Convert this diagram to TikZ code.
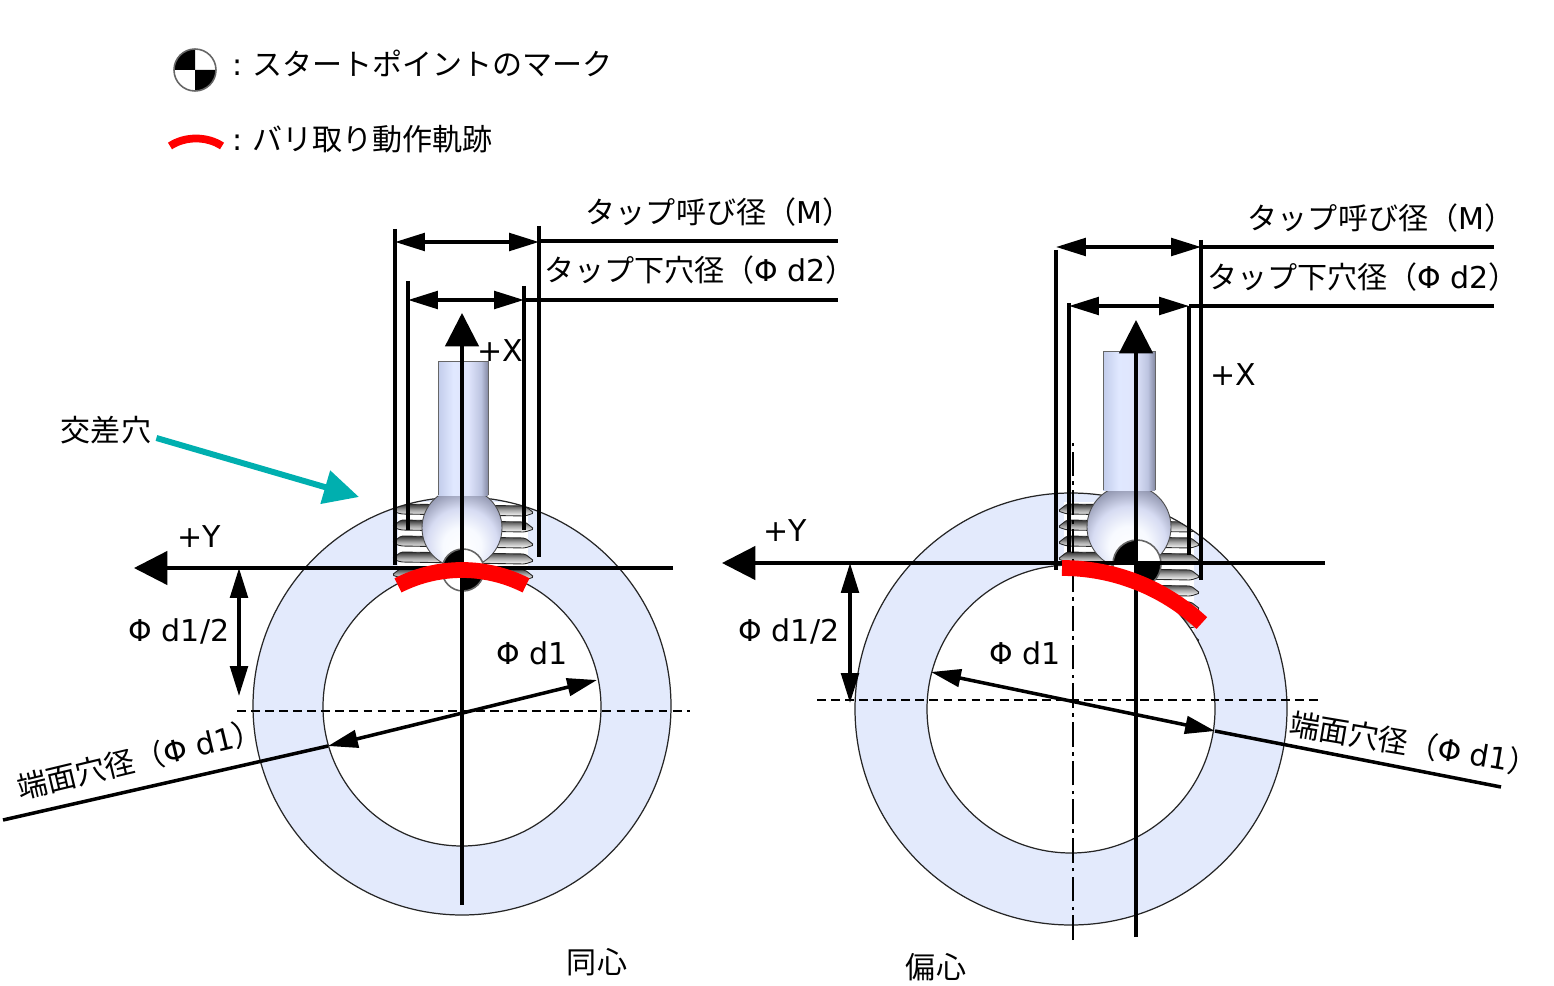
\documentclass[tikz,border=0pt]{standalone}
\usepackage{fontspec}
\setmainfont{Noto Sans CJK JP}
\newfontfamily\latn{DejaVu Sans}
\usetikzlibrary{arrows.meta,positioning}
\definecolor{ringblue}{HTML}{E3EAFC}
\definecolor{teal}{HTML}{00AFAF}
\pgfdeclarehorizontalshading{toolshaft}{100bp}{rgb(0bp)=(.76,.80,.92); rgb(25bp)=(.76,.80,.92); rgb(40bp)=(.88,.91,1); rgb(55bp)=(.88,.90,.99); rgb(68bp)=(.74,.77,.88); rgb(75bp)=(.52,.54,.64); rgb(100bp)=(.52,.54,.64)}
\pgfdeclareradialshading{toolball}{\pgfpoint{0bp}{-14bp}}{rgb(0bp)=(1,1,1); rgb(12bp)=(.97,.98,1); rgb(22bp)=(.84,.86,.95); rgb(32bp)=(.56,.58,.68); rgb(42bp)=(.34,.35,.43); rgb(70bp)=(.28,.28,.36)}
\tikzset{
  dimline/.style={line width=2pt},
  dimarrow/.style={line width=2pt,{Triangle[length=17pt,width=10pt]}-{Triangle[length=17pt,width=10pt]}},
  axisarrow/.style={line width=1.9pt,-{Triangle[length=19pt,width=19pt]}},
  centerdash/.style={line width=.8pt,dash pattern=on 5pt off 3pt},
  redpath/.style={red,line width=9pt},
  ringline/.style={draw=black!85,line width=.7pt},
  txt/.style={font=\fontsize{17.1}{20}\selectfont,inner sep=0pt},
  blade/.style={draw=black!85,line width=.5pt,rounded corners=1pt,top color=black!80,bottom color=white,middle color=black!35},
  startmark/.pic={
    \fill[white] (0,0) circle[radius=#1];
    \fill[black] (0,0) -- (-#1,0) arc[start angle=180,end angle=270,radius=#1] -- cycle;
    \fill[black] (0,0) -- (#1,0) arc[start angle=0,end angle=90,radius=#1] -- cycle;
    \draw[black!60,line width=.9pt] (0,0) circle[radius=#1];
  }
}
\newcommand{\threadset}[5]{% left, right, first y, last y, clip outer circle
  \begin{scope}
    \clip #5;
    \pgfmathsetmacro{\ysec}{#3+16}
    \fill[white] (#1+6,#3-8) rectangle (#2-6,#4+8);
    \foreach \yy in {#3,\ysec,...,#4}{
      \path[blade] (#1,\yy+1) -- (#1+9,\yy-6) -- (#2-9,\yy-4) -- (#2,\yy+3) -- (#2-9,\yy+6) -- (#1+9,\yy+4) -- cycle;
    }
  \end{scope}
}
\newcommand{\toolbit}[5]{% shaft left, shaft right, shaft top, neck y, ball
  \shade[shading=toolball] #5;
  \draw[black!70,line width=.5pt] #5;
  \shade[shading=toolshaft] (#1,#3) rectangle (#2,#4);
  \draw[black!60,line width=.4pt] (#1,#4) -- (#1,#3) -- (#2,#3) -- (#2,#4);
}
\begin{document}
\begin{tikzpicture}[x=0.02cm,y=-0.02cm]
  \useasboundingbox (0,0) rectangle (1554,986);

  % legend
  \pic at (195,70) {startmark=21};
  \node[txt,anchor=west] (legendmark) at (232,63) {\latn:\ \rmfamily スタートポイントのマーク};
  \draw[red,line width=4.4pt] (170,146) .. controls (185,136) and (207,136) .. (222,146);
  \node[txt,anchor=west] (legendpath) at (232,139) {\latn:\ \rmfamily バリ取り動作軌跡};

  % left ring
  \fill[ringblue] (462,706) circle[radius=209];
  \threadset{392}{534}{510}{590}{(462,706) circle[radius=209]}
  \draw[ringline] (462,706) circle[radius=209];
  \filldraw[fill=white,ringline] (462,707) circle[radius=139];
  \toolbit{438}{488}{361}{495}{(462,528) circle[radius=40]}
  \pic at (463,570) {startmark=21};

  \coordinate (lA) at (395,229); \coordinate (lAb) at (395,565);
  \coordinate (lB) at (408,281); \coordinate (lBb) at (408,530);
  \coordinate (lC) at (524,286); \coordinate (lCb) at (524,530);
  \coordinate (lD) at (539,226); \coordinate (lDb) at (539,557);
  \draw[dimline] (lA) -- (lAb) (lB) -- (lBb) (lC) -- (lCb) (lD) -- (lDb);
  \coordinate (lM1) at (395,242); \coordinate (lM2) at (539,242); \coordinate (lM3) at (838,241);
  \coordinate (ld1) at (408,300); \coordinate (ld2) at (524,300); \coordinate (ld3) at (838,300);
  \draw[dimarrow] (lM1) -- (lM2);
  \draw[dimline] (lM2 |- lM3) -- (lM3);
  \draw[dimarrow] (ld1) -- (ld2);
  \draw[dimline] (ld2) -- (ld3);
  \node[txt] (lMtxt) at (719,212) {タップ呼び径（{\latn M}）};
  \node[txt] (ld2txt) at (700,270) {タップ下穴径（{\latn Φ d2}）};

  \coordinate (lXb) at (462,905); \coordinate (lXt) at (462,313);
  \coordinate (lYr) at (673,568); \coordinate (lYl) at (134,568);
  \draw[axisarrow] (lXb) -- (lXt);
  \draw[axisarrow] (lYr) -- (lYl);
  \draw[centerdash] (237,711) coordinate (lcl) -- (690,711) coordinate (lcr);
  \node[txt] (lXtxt) at (500,351) {\latn +X};
  \node[txt] (lYtxt) at (199,537) {\latn +Y};

  \coordinate (lh1) at (239,568); \coordinate (lh2) at (239,696);
  \draw[dimarrow] (lh1) -- (lh2);
  \node[txt] (lhtxt) at (179,631) {\latn Φ d1/2};
  \coordinate (lp1) at (597,680); \coordinate (lp2) at (328,746); \coordinate (lp3) at (3,820);
  \draw[dimarrow] (lp1) -- (lp2);
  \draw[dimline] (lp2) -- (lp3);
  \node[txt] (lptxt) at (532,653) {\latn Φ d1};
  \node[txt,rotate=13.5] (lfacetxt) at (140,759) {端面穴径（{\latn Φ d1}）};

  \node[txt] (crosstxt) at (106,430) {交差穴};
  \coordinate (crosstip) at (359,497);
  \draw[teal,line width=3.4pt,-{Triangle[length=20pt,width=19pt]}] (crosstxt.east)++(5,8) -- (crosstip);
  \draw[redpath] (462,711) ++(243:141) arc[start angle=243,end angle=297,radius=141];
  \node[txt] (samecenter) at (597,962) {同心};

  % right ring
  \fill[ringblue] (1071,709) circle[radius=216];
  \threadset{1058}{1200}{510}{642}{(1071,709) circle[radius=216]}
  \draw[ringline] (1071,709) circle[radius=216];
  \filldraw[fill=white,ringline] (1071,709) circle[radius=144];
  \toolbit{1103}{1155}{351}{490}{(1129,527) circle[radius=42]}
  \pic at (1137,564) {startmark=24};

  \coordinate (rA) at (1056,250); \coordinate (rAb) at (1056,570);
  \coordinate (rB) at (1069,303); \coordinate (rBb) at (1069,552);
  \coordinate (rC) at (1189,306); \coordinate (rCb) at (1189,555);
  \coordinate (rD) at (1201,240); \coordinate (rDb) at (1201,580);
  \draw[dimline] (rA) -- (rAb) (rB) -- (rBb) (rC) -- (rCb) (rD) -- (rDb);
  \coordinate (rM1) at (1056,247); \coordinate (rM2) at (1201,247); \coordinate (rM3) at (1494,247);
  \coordinate (rd1) at (1069,306); \coordinate (rd2) at (1189,306); \coordinate (rd3) at (1494,306);
  \draw[dimarrow] (rM1) -- (rM2);
  \draw[dimline] (rM2) -- (rM3);
  \draw[dimarrow] (rd1) -- (rd2);
  \draw[dimline] (rd2) -- (rd3);
  \node[txt] (rMtxt) at (1381,218) {タップ呼び径（{\latn M}）};
  \node[txt] (rd2txt) at (1363,277) {タップ下穴径（{\latn Φ d2}）};

  \coordinate (rXb) at (1136,937); \coordinate (rXt) at (1136,320);
  \coordinate (rYr) at (1325,563); \coordinate (rYl) at (722,563);
  \draw[line width=1.1pt,dash pattern=on 14pt off 3pt on 2pt off 3pt] (1073,940) coordinate (rcb) -- (1073,440) coordinate (rct);
  \draw[axisarrow] (rXb) -- (rXt);
  \draw[axisarrow] (rYr) -- (rYl);
  \draw[centerdash] (817,700) coordinate (rcl) -- (1320,700) coordinate (rcr);
  \node[txt] (rXtxt) at (1233,375) {\latn +X};
  \node[txt] (rYtxt) at (785,531) {\latn +Y};

  \coordinate (rh1) at (850,563); \coordinate (rh2) at (850,703);
  \draw[dimarrow] (rh1) -- (rh2);
  \node[txt] (rhtxt) at (789,631) {\latn Φ d1/2};
  \coordinate (rp1) at (931,672); \coordinate (rp2) at (1215,731); \coordinate (rp3) at (1501,787);
  \draw[dimarrow] (rp1) -- (rp2);
  \draw[dimline] (rp2) -- (rp3);
  \node[txt] (rptxt) at (1025,653) {\latn Φ d1};
  \node[txt,rotate=-9.5] (rfacetxt) at (1414,744) {端面穴径（{\latn Φ d1}）};
  \draw[redpath] (1062,773) ++(270:205) arc[start angle=270,end angle=313,radius=205];
  \node[txt] (eccentric) at (936,967) {偏心};
\end{tikzpicture}
\end{document}
